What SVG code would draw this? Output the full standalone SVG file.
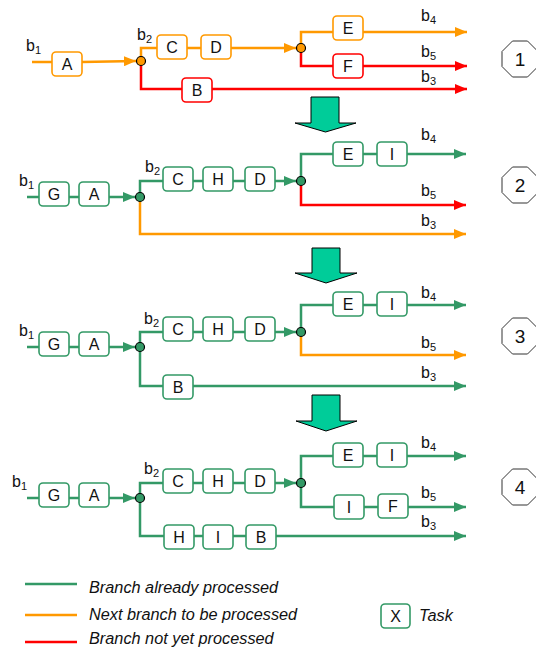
<svg xmlns="http://www.w3.org/2000/svg" width="536" height="647" viewBox="0 0 536 647">
  <style>
    text { font-family: "Liberation Sans", Arial, sans-serif; fill: #111; }
    .box { fill: #fff; stroke-width: 1.6; }
    .g { stroke: #339966; }
    .o { stroke: #FF9900; }
    .r { stroke: #FF0000; }
    .lbl { font-size: 16px; text-anchor: middle; }
    .b { font-size: 16px; }
    .sub { font-size: 11px; }
    .wire { fill: none; stroke-width: 2.5; }
    .wg { stroke: #339966; marker-end: url(#ag); }
    .wo { stroke: #FF9900; marker-end: url(#ao); }
    .wr { stroke: #FF0000; marker-end: url(#ar); }
    .jn { stroke: #000; stroke-width: 1.2; }
    .step { fill: #00CC99; stroke: #000; stroke-width: 1; }
    .oct { fill: #fff; stroke: #333; stroke-width: 1; }
    .num { font-size: 19px; text-anchor: middle; }
    .leg { font-size: 16.3px; font-style: italic; }
  </style>
  <defs>
    <marker id="ag" markerUnits="userSpaceOnUse" markerWidth="12" markerHeight="10" refX="12" refY="5" orient="auto">
      <path d="M0,0 L12,5 L0,10 z" fill="#339966"/>
    </marker>
    <marker id="ao" markerUnits="userSpaceOnUse" markerWidth="12" markerHeight="10" refX="12" refY="5" orient="auto">
      <path d="M0,0 L12,5 L0,10 z" fill="#FF9900"/>
    </marker>
    <marker id="ar" markerUnits="userSpaceOnUse" markerWidth="12" markerHeight="10" refX="12" refY="5" orient="auto">
      <path d="M0,0 L12,5 L0,10 z" fill="#FF0000"/>
    </marker>
  </defs>

  <!-- connectors -->
  <g id="connectors">
    <!-- step 1 -->
    <path class="wire wo" d="M32,62 H82 L136,61"/>
    <path class="wire wo" d="M141,61 V48 H296"/>
    <path class="wire wo" d="M301,48 V32 H467"/>
    <path class="wire wr" d="M301,48 V66 H467"/>
    <path class="wire wr" d="M141,61 V89 H467"/>
    <!-- step 2 -->
    <path class="wire wg" d="M27,197 H135"/>
    <path class="wire wg" d="M140,197 V181 H296"/>
    <path class="wire wg" d="M301,181 V154 H466"/>
    <path class="wire wr" d="M301,181 V205 H466"/>
    <path class="wire wo" d="M140,197 V234 H466"/>
    <!-- step 3 -->
    <path class="wire wg" d="M27,347 H135"/>
    <path class="wire wg" d="M140,347 V332 H296"/>
    <path class="wire wg" d="M301,332 V305 H466"/>
    <path class="wire wo" d="M301,332 V355 H466"/>
    <path class="wire wg" d="M140,347 V386 H466"/>
    <!-- step 4 -->
    <path class="wire wg" d="M27,498 H135"/>
    <path class="wire wg" d="M140,498 V483 H296"/>
    <path class="wire wg" d="M301,483 V456 H466"/>
    <path class="wire wg" d="M301,483 V507 H466"/>
    <path class="wire wg" d="M140,498 V536 H466"/>
  </g>

  <!-- junction points -->
  <g id="junctions">
    <circle class="jn" cx="141" cy="61" r="4.5" fill="#FF9900"/>
    <circle class="jn" cx="301" cy="48" r="4.5" fill="#FF9900"/>
    <circle class="jn" cx="140" cy="197" r="4.5" fill="#339966"/>
    <circle class="jn" cx="301" cy="181" r="4.5" fill="#339966"/>
    <circle class="jn" cx="140" cy="347" r="4.5" fill="#339966"/>
    <circle class="jn" cx="301" cy="332" r="4.5" fill="#339966"/>
    <circle class="jn" cx="140" cy="498" r="4.5" fill="#339966"/>
    <circle class="jn" cx="301" cy="483" r="4.5" fill="#339966"/>
  </g>

  <!-- step 1 tasks -->
  <g id="s1-A"><rect class="box o" x="52" y="52" width="30" height="24" rx="4"/><text class="lbl" x="67" y="70">A</text></g>
  <g id="s1-C"><rect class="box o" x="157" y="35" width="30" height="24" rx="4"/><text class="lbl" x="172" y="53">C</text></g>
  <g id="s1-D"><rect class="box o" x="201" y="35" width="30" height="24" rx="4"/><text class="lbl" x="216" y="53">D</text></g>
  <g id="s1-B"><rect class="box r" x="182" y="78" width="30" height="24" rx="4"/><text class="lbl" x="197" y="96">B</text></g>
  <g id="s1-E"><rect class="box o" x="333" y="16" width="30" height="24" rx="4"/><text class="lbl" x="348" y="34">E</text></g>
  <g id="s1-F"><rect class="box r" x="333" y="54" width="30" height="24" rx="4"/><text class="lbl" x="348" y="72">F</text></g>

  <!-- step 2 tasks -->
  <g id="s2-G"><rect class="box g" x="39" y="182" width="30" height="24" rx="4"/><text class="lbl" x="54" y="200">G</text></g>
  <g id="s2-A"><rect class="box g" x="79" y="182" width="30" height="24" rx="4"/><text class="lbl" x="94" y="200">A</text></g>
  <g id="s2-C"><rect class="box g" x="163" y="167" width="30" height="24" rx="4"/><text class="lbl" x="178" y="185">C</text></g>
  <g id="s2-H"><rect class="box g" x="203" y="167" width="30" height="24" rx="4"/><text class="lbl" x="218" y="185">H</text></g>
  <g id="s2-D"><rect class="box g" x="245" y="167" width="30" height="24" rx="4"/><text class="lbl" x="260" y="185">D</text></g>
  <g id="s2-E"><rect class="box g" x="333" y="142" width="30" height="24" rx="4"/><text class="lbl" x="348" y="160">E</text></g>
  <g id="s2-I"><rect class="box g" x="377" y="142" width="30" height="24" rx="4"/><text class="lbl" x="392" y="160">I</text></g>

  <!-- step 3 tasks -->
  <g id="s3-G"><rect class="box g" x="39" y="332" width="30" height="24" rx="4"/><text class="lbl" x="54" y="350">G</text></g>
  <g id="s3-A"><rect class="box g" x="79" y="332" width="30" height="24" rx="4"/><text class="lbl" x="94" y="350">A</text></g>
  <g id="s3-C"><rect class="box g" x="163" y="317" width="30" height="24" rx="4"/><text class="lbl" x="178" y="335">C</text></g>
  <g id="s3-H"><rect class="box g" x="203" y="317" width="30" height="24" rx="4"/><text class="lbl" x="218" y="335">H</text></g>
  <g id="s3-D"><rect class="box g" x="245" y="317" width="30" height="24" rx="4"/><text class="lbl" x="260" y="335">D</text></g>
  <g id="s3-B"><rect class="box g" x="163" y="375" width="30" height="24" rx="4"/><text class="lbl" x="178" y="393">B</text></g>
  <g id="s3-E"><rect class="box g" x="333" y="292" width="30" height="24" rx="4"/><text class="lbl" x="348" y="310">E</text></g>
  <g id="s3-I"><rect class="box g" x="377" y="292" width="30" height="24" rx="4"/><text class="lbl" x="392" y="310">I</text></g>

  <!-- step 4 tasks -->
  <g id="s4-G"><rect class="box g" x="39" y="483" width="30" height="24" rx="4"/><text class="lbl" x="54" y="501">G</text></g>
  <g id="s4-A"><rect class="box g" x="79" y="483" width="30" height="24" rx="4"/><text class="lbl" x="94" y="501">A</text></g>
  <g id="s4-C"><rect class="box g" x="163" y="469" width="30" height="24" rx="4"/><text class="lbl" x="178" y="487">C</text></g>
  <g id="s4-H"><rect class="box g" x="203" y="469" width="30" height="24" rx="4"/><text class="lbl" x="218" y="487">H</text></g>
  <g id="s4-D"><rect class="box g" x="245" y="469" width="30" height="24" rx="4"/><text class="lbl" x="260" y="487">D</text></g>
  <g id="s4-H2"><rect class="box g" x="164" y="525" width="30" height="24" rx="4"/><text class="lbl" x="179" y="543">H</text></g>
  <g id="s4-I2"><rect class="box g" x="203" y="525" width="30" height="24" rx="4"/><text class="lbl" x="218" y="543">I</text></g>
  <g id="s4-B"><rect class="box g" x="246" y="525" width="30" height="24" rx="4"/><text class="lbl" x="261" y="543">B</text></g>
  <g id="s4-E"><rect class="box g" x="333" y="443" width="30" height="24" rx="4"/><text class="lbl" x="348" y="461">E</text></g>
  <g id="s4-I"><rect class="box g" x="377" y="443" width="30" height="24" rx="4"/><text class="lbl" x="392" y="461">I</text></g>
  <g id="s4-I3"><rect class="box g" x="334" y="495" width="30" height="24" rx="4"/><text class="lbl" x="349" y="513">I</text></g>
  <g id="s4-F"><rect class="box g" x="378" y="494" width="30" height="24" rx="4"/><text class="lbl" x="393" y="512">F</text></g>

  <!-- branch labels -->
  <g id="branch-labels">
    <text class="b" x="26" y="51">b<tspan class="sub" dy="3">1</tspan></text>
    <text class="b" x="137" y="40">b<tspan class="sub" dy="3">2</tspan></text>
    <text class="b" x="421" y="21">b<tspan class="sub" dy="3">4</tspan></text>
    <text class="b" x="421" y="57">b<tspan class="sub" dy="3">5</tspan></text>
    <text class="b" x="421" y="82">b<tspan class="sub" dy="3">3</tspan></text>

    <text class="b" x="19" y="186">b<tspan class="sub" dy="3">1</tspan></text>
    <text class="b" x="145" y="172">b<tspan class="sub" dy="3">2</tspan></text>
    <text class="b" x="421" y="140">b<tspan class="sub" dy="3">4</tspan></text>
    <text class="b" x="421" y="196">b<tspan class="sub" dy="3">5</tspan></text>
    <text class="b" x="421" y="226">b<tspan class="sub" dy="3">3</tspan></text>

    <text class="b" x="19" y="336">b<tspan class="sub" dy="3">1</tspan></text>
    <text class="b" x="144" y="324">b<tspan class="sub" dy="3">2</tspan></text>
    <text class="b" x="421" y="298">b<tspan class="sub" dy="3">4</tspan></text>
    <text class="b" x="421" y="348">b<tspan class="sub" dy="3">5</tspan></text>
    <text class="b" x="421" y="378">b<tspan class="sub" dy="3">3</tspan></text>

    <text class="b" x="12" y="487">b<tspan class="sub" dy="3">1</tspan></text>
    <text class="b" x="144" y="474">b<tspan class="sub" dy="3">2</tspan></text>
    <text class="b" x="421" y="448">b<tspan class="sub" dy="3">4</tspan></text>
    <text class="b" x="421" y="498">b<tspan class="sub" dy="3">5</tspan></text>
    <text class="b" x="421" y="527">b<tspan class="sub" dy="3">3</tspan></text>
  </g>

  <!-- step transitions -->
  <g id="transitions">
    <path class="step" d="M311,97 H339 V123 H356 L325.5,132 L295,123 H311 Z"/>
    <path class="step" d="M312,248 H340 V273 H357 L326,283 L295,273 H312 Z"/>
    <path class="step" d="M312,395 H340 V421 H357 L326,431 L296,421 H312 Z"/>
  </g>

  <!-- step numbers -->
  <g id="step-1"><polygon class="oct" points="527.5,41 538,51.5 538,66.5 527.5,77 512.5,77 502,66.5 502,51.5 512.5,41"/><text class="num" x="520" y="66">1</text></g>
  <g id="step-2"><polygon class="oct" points="527.5,167 538,177.5 538,192.5 527.5,203 512.5,203 502,192.5 502,177.5 512.5,167"/><text class="num" x="520" y="192">2</text></g>
  <g id="step-3"><polygon class="oct" points="527.5,318 538,328.5 538,343.5 527.5,354 512.5,354 502,343.5 502,328.5 512.5,318"/><text class="num" x="520" y="343">3</text></g>
  <g id="step-4"><polygon class="oct" points="527.5,469 538,479.5 538,494.5 527.5,505 512.5,505 502,494.5 502,479.5 512.5,469"/><text class="num" x="520" y="494">4</text></g>

  <!-- legend -->
  <g id="legend">
    <line x1="25" y1="584" x2="77" y2="584" stroke="#339966" stroke-width="2.5"/>
    <text class="leg" x="89" y="593">Branch already processed</text>
    <line x1="25" y1="615" x2="77" y2="615" stroke="#FF9900" stroke-width="2.5"/>
    <text class="leg" x="89" y="620">Next branch to be processed</text>
    <line x1="25" y1="642" x2="77" y2="642" stroke="#FF0000" stroke-width="2.5"/>
    <text class="leg" x="89" y="644">Branch not yet processed</text>
    <rect class="box g" x="381" y="604" width="29" height="24" rx="4"/>
    <text class="lbl" x="395.5" y="622">X</text>
    <text class="leg" x="419" y="621">Task</text>
  </g>
</svg>
